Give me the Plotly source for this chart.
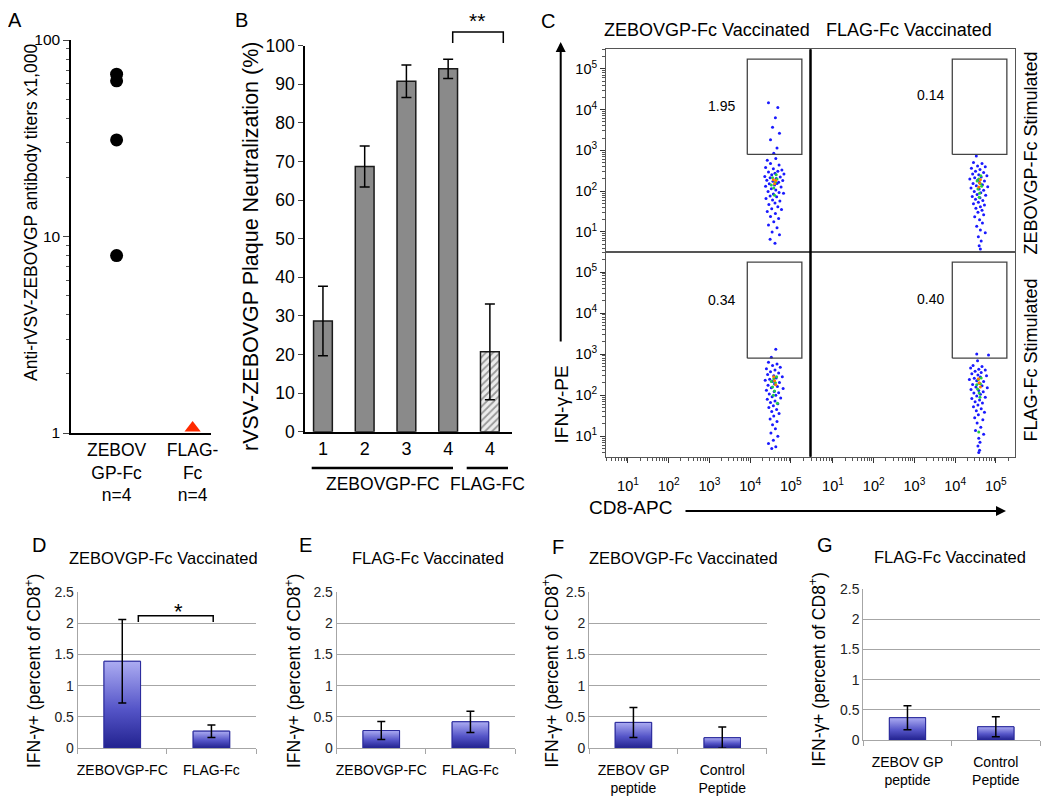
import plotly.graph_objects as go

W, H = 1050, 799          # size of the reference picture
OX, OY = 8, 8             # page offset of the plot inside the browser page
FW, FH = W - OX, H - OY   # figure size
FONT = "Liberation Sans, Arial, Helvetica, sans-serif"

# ---------------- data ----------------
# Panel A: antibody titers (x1,000)
a_categories = ["ZEBOV<br>GP-Fc<br>n=4", "FLAG-<br>Fc<br>n=4"]
a_zebov_titers = [67, 62, 31, 8]
a_flag_titers = [1.06]

# Panel B: plaque neutralization (%)
b_tick_labels = ["1", "2", "3", "4", "4"]
b_values = [28.7, 68.7, 90.8, 94.0, 20.7]
b_errors = [9.0, 5.3, 4.2, 2.5, 12.4]
b_groups = ["ZEBOVGP-FC", "FLAG-FC"]

# Panel C: flow cytometry (log10 CD8-APC, log10 IFN-g-PE)
c_col_titles = ["ZEBOVGP-Fc Vaccinated", "FLAG-Fc Vaccinated"]
c_row_titles = ["ZEBOVGP-Fc Stimulated", "FLAG-Fc Stimulated"]
c_gate_pct = ["1.95", "0.14", "0.34", "0.40"]
c_gate_x_log = [3.93, 5.27]
c_gate_y_log = [2.90, 5.24]
c_decades = [1, 2, 3, 4, 5]

c_tl_events = [
    (4.45, 4.17), (4.68, 4.05), (4.62, 3.80), (4.55, 3.57), (4.72, 3.42), (4.50, 3.26), (4.66, 3.06), (4.58, 2.93),
    (4.42, 2.76), (4.63, 2.80), (4.50, 2.68), (4.71, 2.64), (4.38, 2.58), (4.57, 2.55), (4.78, 2.52),
    (4.45, 2.47), (4.61, 2.44), (4.68, 2.49), (4.53, 2.40), (4.83, 2.42), (4.36, 2.36), (4.49, 2.33), (4.64, 2.31),
    (4.74, 2.35), (4.41, 2.27), (4.56, 2.24), (4.70, 2.22), (4.80, 2.26), (4.47, 2.18), (4.60, 2.15), (4.66, 2.19),
    (4.38, 2.12), (4.76, 2.10), (4.52, 2.06), (4.63, 2.03), (4.44, 1.99), (4.71, 1.97), (4.57, 1.93), (4.82, 1.95),
    (4.49, 1.88), (4.65, 1.86), (4.39, 1.82), (4.55, 1.78), (4.73, 1.76), (4.61, 1.71), (4.46, 1.67), (4.68, 1.62),
    (4.53, 1.57), (4.77, 1.55), (4.42, 1.50), (4.62, 1.45), (4.50, 1.38), (4.70, 1.33), (4.58, 1.25), (4.45, 1.17),
    (4.66, 1.10), (4.54, 1.00), (4.72, 0.93), (4.49, 0.82), (4.61, 0.72),
]
c_tl_mid = [(4.55, 2.33), (4.62, 2.22), (4.58, 2.08), (4.66, 2.30), (4.60, 1.90), (4.52, 2.15), (4.64, 2.40)]
c_tl_hot = [(4.60, 2.18), (4.63, 2.26), (4.57, 2.28)]

c_tr_events = [
    (4.52, 2.86), (4.45, 2.70), (4.66, 2.68), (4.55, 2.62), (4.74, 2.60), (4.40, 2.56), (4.61, 2.53), (4.50, 2.49),
    (4.70, 2.46), (4.43, 2.42), (4.58, 2.40), (4.78, 2.38), (4.64, 2.35), (4.48, 2.33), (4.36, 2.30), (4.55, 2.27),
    (4.72, 2.25), (4.60, 2.21), (4.44, 2.19), (4.67, 2.16), (4.52, 2.13), (4.80, 2.11), (4.39, 2.08), (4.59, 2.05),
    (4.70, 2.02), (4.47, 1.99), (4.63, 1.96), (4.54, 1.92), (4.75, 1.90), (4.42, 1.87), (4.61, 1.84), (4.50, 1.80),
    (4.68, 1.77), (4.57, 1.73), (4.45, 1.69), (4.72, 1.66), (4.62, 1.62), (4.51, 1.58), (4.66, 1.53), (4.56, 1.48),
    (4.70, 1.42), (4.48, 1.37), (4.60, 1.30), (4.67, 1.22), (4.53, 1.14), (4.62, 1.05), (4.74, 0.98), (4.57, 0.88),
    (4.64, 0.78), (4.59, 0.66), (4.62, 0.58),
]
c_tr_mid = [(4.58, 2.30), (4.62, 2.18), (4.56, 2.05), (4.65, 2.12), (4.60, 1.95), (4.54, 2.25), (4.63, 2.38), (4.59, 1.85)]
c_tr_hot = [(4.60, 2.20), (4.58, 2.10), (4.62, 2.28)]

c_bl_events = [
    (4.63, 3.12), (4.52, 2.92), (4.45, 2.80), (4.66, 2.76), (4.55, 2.72), (4.74, 2.68), (4.40, 2.64), (4.61, 2.61),
    (4.50, 2.57), (4.70, 2.54), (4.43, 2.50), (4.58, 2.47), (4.79, 2.45), (4.64, 2.42), (4.48, 2.39), (4.37, 2.36),
    (4.55, 2.33), (4.72, 2.31), (4.60, 2.27), (4.44, 2.24), (4.67, 2.21), (4.52, 2.18), (4.81, 2.16), (4.40, 2.12),
    (4.59, 2.09), (4.70, 2.06), (4.47, 2.03), (4.63, 2.00), (4.54, 1.96), (4.75, 1.93), (4.42, 1.90), (4.61, 1.86),
    (4.50, 1.82), (4.68, 1.79), (4.57, 1.74), (4.46, 1.70), (4.65, 1.65), (4.53, 1.60), (4.71, 1.55), (4.58, 1.49),
    (4.49, 1.42), (4.66, 1.36), (4.55, 1.28), (4.62, 1.18), (4.51, 1.08), (4.68, 1.00), (4.57, 0.90), (4.45, 0.82),
    (4.63, 0.74), (4.53, 0.70),
]
c_bl_mid = [(4.58, 2.40), (4.62, 2.30), (4.55, 2.20), (4.65, 2.45), (4.60, 2.10), (4.57, 2.00), (4.67, 1.80), (4.52, 2.33)]
c_bl_hot = [(4.60, 2.35), (4.63, 2.25), (4.58, 2.45)]

c_br_events = [
    (4.53, 3.00), (4.82, 2.98), (4.55, 2.84), (4.44, 2.72), (4.66, 2.70), (4.38, 2.66), (4.58, 2.63), (4.74, 2.61),
    (4.49, 2.58), (4.64, 2.55), (4.41, 2.52), (4.56, 2.49), (4.77, 2.47), (4.62, 2.44), (4.47, 2.41), (4.35, 2.38),
    (4.53, 2.35), (4.70, 2.33), (4.59, 2.29), (4.43, 2.26), (4.66, 2.23), (4.51, 2.20), (4.79, 2.18), (4.39, 2.14),
    (4.58, 2.11), (4.69, 2.08), (4.46, 2.05), (4.62, 2.02), (4.53, 1.98), (4.74, 1.95), (4.41, 1.92), (4.60, 1.88),
    (4.49, 1.84), (4.67, 1.81), (4.56, 1.76), (4.45, 1.72), (4.64, 1.67), (4.52, 1.62), (4.72, 1.58), (4.57, 1.52),
    (4.48, 1.45), (4.68, 1.40), (4.54, 1.32), (4.63, 1.22), (4.50, 1.14), (4.70, 1.05), (4.58, 0.95), (4.61, 0.85),
    (4.56, 0.76), (4.60, 0.66), (4.58, 0.60),
]
c_br_mid = [(4.57, 2.38), (4.62, 2.28), (4.55, 2.15), (4.64, 2.42), (4.59, 2.05), (4.53, 2.25), (4.61, 1.95), (4.58, 1.10)]
c_br_hot = [(4.59, 2.30), (4.62, 2.20), (4.57, 2.40)]

# Panels D-G: IFN-g+ (percent of CD8+)
d_categories = ["ZEBOVGP-FC", "FLAG-Fc"]
d_values = [1.39, 0.27]
d_errors = [0.67, 0.10]
e_categories = ["ZEBOVGP-FC", "FLAG-Fc"]
e_values = [0.28, 0.42]
e_errors = [0.145, 0.17]
f_categories = ["ZEBOV GP<br>peptide", "Control<br>Peptide"]
f_values = [0.41, 0.165]
f_errors = [0.24, 0.17]
g_categories = ["ZEBOV GP<br>peptide", "Control<br>Peptide"]
g_values = [0.37, 0.22]
g_errors = [0.20, 0.165]
dg_titles = ["ZEBOVGP-Fc Vaccinated", "FLAG-Fc Vaccinated", "ZEBOVGP-Fc Vaccinated", "FLAG-Fc Vaccinated"]


# ---------------- helpers (reference-pixel -> figure paper coords) ----------------
def xdom(left, right):
    return [(left - OX) / FW, (right - OX) / FW]


def ydom(top, bottom):
    return [1 - (bottom - OY) / FH, 1 - (top - OY) / FH]


def px(x, y):
    return (x - OX) / FW, 1 - (y - OY) / FH


def txt(x, y, text, size, angle=0, **kw):
    xp, yp = px(x, y)
    d = dict(x=xp, y=yp, xref="paper", yref="paper", text=text, showarrow=False,
             textangle=angle, font=dict(size=size, family=FONT, color="black"),
             xanchor="center", yanchor="middle")
    d.update(kw)
    return d


fig = go.Figure()
annotations = []
shapes = []
layout = {}

# ---------------- Panel A ----------------
fig.add_trace(go.Scatter(
    x=[a_categories[0]] * len(a_zebov_titers), y=a_zebov_titers, mode="markers",
    marker=dict(color="black", size=13), xaxis="x", yaxis="y", cliponaxis=False))
fig.add_trace(go.Scatter(
    x=[a_categories[1]] * len(a_flag_titers), y=a_flag_titers, mode="markers",
    marker=dict(color="#ff2a00", size=14, symbol="triangle-up"), xaxis="x", yaxis="y", cliponaxis=False))
minor_a = [m * 10 ** k for k in range(0, 2) for m in range(2, 10)]
layout["xaxis"] = dict(domain=xdom(71, 211), type="category", categoryarray=a_categories,
                       range=[-0.6, 1.242], showline=True, linecolor="black", linewidth=1.5,
                       ticks="", tickfont=dict(size=17.5, color="black", family=FONT), anchor="y",
                       showgrid=False, zeroline=False, automargin=False, tickangle=0)
layout["yaxis"] = dict(domain=ydom(40, 433), type="log", range=[0, 2], tickvals=[1, 10, 100],
                       ticktext=["1", "10", "100"], ticks="outside", ticklen=6, tickwidth=1.2,
                       minor=dict(tickmode="array", tickvals=minor_a, ticks="outside", ticklen=3,
                                  tickcolor="#555", showgrid=False),
                       showline=True, linecolor="black", linewidth=1.5, showgrid=False,
                       tickfont=dict(size=15.5, color="black", family=FONT), anchor="x", zeroline=False,
                       automargin=False)
annotations.append(txt(31, 213, "Anti-rVSV-ZEBOVGP antibody titers x1,000", 17.5, -90))
annotations.append(txt(15, 20, "A", 20))

# ---------------- Panel B ----------------
b_x = list(range(len(b_values)))
fig.add_trace(go.Bar(
    x=b_x, y=b_values, width=0.45, xaxis="x2", yaxis="y2",
    marker=dict(color=["#8a8a8a"] * 4 + ["#ececec"], line=dict(color="#1a1a1a", width=1.5),
                pattern=dict(shape=["", "", "", "", "/"], fgcolor="#6a6a6a", bgcolor="#ececec",
                             size=5, solidity=0.35)),
    error_y=dict(type="data", array=b_errors, color="black", thickness=1.5, width=5)))
layout["xaxis2"] = dict(domain=xdom(305, 512), range=[-0.43, 4.53], tickvals=b_x, ticktext=b_tick_labels,
                        ticks="", showline=True, linecolor="black", linewidth=1.5, showgrid=False,
                        zeroline=False, tickfont=dict(size=18, color="black", family=FONT), anchor="y2",
                        automargin=False)
layout["yaxis2"] = dict(domain=ydom(45.7, 431.7), range=[0, 100], dtick=10, ticks="outside", ticklen=5,
                        showline=True, linecolor="black", linewidth=1.5, showgrid=False, zeroline=False,
                        tickfont=dict(size=17.5, color="black", family=FONT), anchor="x2", automargin=False)
annotations.append(txt(251, 247, "rVSV-ZEBOVGP Plaque Neutralization (%)", 21.5, -90))
annotations.append(txt(241, 20, "B", 20))
for (l, r, cx), g in zip([(311.7, 453, 383), (466.7, 508, 487)], b_groups):
    x0, y0 = px(l, 468)
    x1, _ = px(r, 468)
    shapes.append(dict(type="line", xref="paper", yref="paper", x0=x0, x1=x1, y0=y0, y1=y0,
                       line=dict(color="black", width=2.5)))
    annotations.append(txt(cx, 484, g, 17.5))
bx0, by0 = px(452.7, 43)
bx1, by1 = px(503.3, 32)
shapes.append(dict(type="path", xref="paper", yref="paper",
                   path=f"M {bx0},{by0} L {bx0},{by1} L {bx1},{by1} L {bx1},{by0}",
                   line=dict(color="black", width=1.5)))
annotations.append(txt(477, 21, "**", 21))

# ---------------- Panel C ----------------
flow_panels = [
    ("x3", "y3", c_tl_events, c_tl_mid, c_tl_hot, (606, 810), (49.3, 252.3), False, True),
    ("x4", "y4", c_tr_events, c_tr_mid, c_tr_hot, (811, 1015), (49.3, 252.3), False, False),
    ("x5", "y5", c_bl_events, c_bl_mid, c_bl_hot, (606, 810), (252.3, 456.7), True, True),
    ("x6", "y6", c_br_events, c_br_mid, c_br_hot, (811, 1015), (252.3, 456.7), True, False),
]
major_c = [10 ** d for d in c_decades]
major_txt = [f"10<sup>{d}</sup>" for d in c_decades]
minor_c = [m * 10 ** k for k in range(0, 6) for m in range(2, 10)]
for xa, ya, ev, mid, hot, (l, r), (t, b), show_x, show_y in flow_panels:
    for pts, col, sz in [(ev, "#1a1aff", 3), (mid, "#22cc44", 3), (hot, "#ff7a00", 3)]:
        fig.add_trace(go.Scatter(
            x=[10 ** p[0] for p in pts], y=[10 ** p[1] for p in pts], mode="markers",
            marker=dict(color=col, size=sz, line=dict(width=0)), xaxis=xa, yaxis=ya))
    gx = [10 ** c_gate_x_log[0], 10 ** c_gate_x_log[1], 10 ** c_gate_x_log[1], 10 ** c_gate_x_log[0],
          10 ** c_gate_x_log[0]]
    gy = [10 ** c_gate_y_log[0], 10 ** c_gate_y_log[0], 10 ** c_gate_y_log[1], 10 ** c_gate_y_log[1],
          10 ** c_gate_y_log[0]]
    fig.add_trace(go.Scatter(x=gx, y=gy, mode="lines", line=dict(color="#444", width=1.3),
                             xaxis=xa, yaxis=ya))
    n = xa[1:]
    layout[f"xaxis{n}"] = dict(
        domain=xdom(l, r), type="log", range=[0.46, 5.47], anchor=ya, showgrid=False, zeroline=False,
        showline=True, mirror=True, linecolor="#555", linewidth=1, automargin=False,
        tickvals=major_c, ticktext=major_txt, showticklabels=show_x,
        ticks="outside" if show_x else "", ticklen=5, tickcolor="#333", ticklabelstandoff=11,
        minor=dict(tickmode="array", tickvals=minor_c, ticks="outside" if show_x else "", ticklen=3,
                   tickcolor="#555", showgrid=False),
        tickfont=dict(size=14.5, color="black", family=FONT))
    layout[f"yaxis{n}"] = dict(
        domain=ydom(t, b), type="log", range=[0.5, 5.48], anchor=xa, showgrid=False, zeroline=False,
        showline=True, mirror=True, linecolor="#555", linewidth=1, automargin=False,
        tickvals=major_c, ticktext=major_txt, showticklabels=show_y,
        ticks="outside" if show_y else "", ticklen=5, tickcolor="#333",
        minor=dict(tickmode="array", tickvals=minor_c, ticks="outside" if show_y else "", ticklen=3,
                   tickcolor="#555", showgrid=False),
        tickfont=dict(size=14.5, color="black", family=FONT))
dx, dy0 = px(810.5, 49.3)
_, dy1 = px(810.5, 456.7)
shapes.append(dict(type="line", xref="paper", yref="paper", x0=dx, x1=dx, y0=dy0, y1=dy1,
                   line=dict(color="black", width=2.5)))
annotations.append(txt(706.7, 30, c_col_titles[0], 18))
annotations.append(txt(909, 30, c_col_titles[1], 18))
annotations.append(txt(1030.5, 153, c_row_titles[0], 18, -90))
annotations.append(txt(1030.5, 360, c_row_titles[1], 18, -90))
for (gxp, gyp), lab in zip([(721.7, 106), (930, 95), (721.7, 300), (930, 299.3)], c_gate_pct):
    annotations.append(txt(gxp, gyp, lab, 14))
annotations.append(txt(548, 21, "C", 20))
annotations.append(txt(560.5, 405, "IFN-γ-PE", 19, -90))
hx, hy = px(560.7, 42)
annotations.append(dict(x=hx, y=hy, xref="paper", yref="paper", ax=0, ay=301, text="", showarrow=True,
                        arrowhead=2, arrowsize=1, arrowwidth=2, arrowcolor="black"))
annotations.append(txt(630, 507, "CD8-APC", 19))
hx2, hy2 = px(1006, 511)
annotations.append(dict(x=hx2, y=hy2, xref="paper", yref="paper", ax=-322, ay=0, text="", showarrow=True,
                        arrowhead=2, arrowsize=1, arrowwidth=2, arrowcolor="black"))

# ---------------- Panels D-G ----------------
BAR_W = 0.41
GRAD = [[0, "#22228f"], [0.45, "#5555c8"], [1, "#acacf2"]]
bar_panels = [
    ("x7", "y7", d_categories, d_values, d_errors, (77.7, 256), (591.7, 748), "D", (39, 545), (163.3, 558), (33, 671)),
    ("x8", "y8", e_categories, e_values, e_errors, (336.7, 515), (591.7, 748), "E", (305, 545), (428.3, 558), (293, 671)),
    ("x9", "y9", f_categories, f_values, f_errors, (589, 766.7), (591.7, 748), "F", (558, 547), (683, 558), (550.5, 671)),
    ("x10", "y10", g_categories, g_values, g_errors, (863.3, 1040), (589, 740), "G", (825, 545), (950, 557), (817.5, 670)),
]
for i, (xa, ya, cats, vals, errs, (l, r), (t, b), letter, lpos, tpos, ypos) in enumerate(bar_panels):
    xs = list(range(len(vals)))
    fig.add_trace(go.Bar(
        x=xs, y=vals, width=BAR_W, xaxis=xa, yaxis=ya,
        marker=dict(color="#6868d4", line=dict(color="#2b2b9c", width=1))))
    # vertical gradient fill for each bar, built from the same values
    for xi, v in zip(xs, vals):
        fig.add_trace(go.Scatter(
            x=[xi - BAR_W / 2, xi - BAR_W / 2, xi + BAR_W / 2, xi + BAR_W / 2, xi - BAR_W / 2],
            y=[0, v, v, 0, 0], mode="lines", fill="toself",
            fillgradient=dict(type="vertical", colorscale=GRAD),
            line=dict(color="#2b2b9c", width=1), xaxis=xa, yaxis=ya, hoverinfo="skip"))
    fig.add_trace(go.Scatter(
        x=xs, y=vals, mode="markers", marker=dict(size=1, opacity=0), xaxis=xa, yaxis=ya,
        error_y=dict(type="data", array=errs, color="black", thickness=1.5, width=4)))
    n = xa[1:]
    layout[f"xaxis{n}"] = dict(
        domain=xdom(l, r), range=[-0.5, 1.5], tickvals=xs, ticktext=cats, anchor=ya,
        showline=True, linecolor="#a6a6a6", linewidth=1, ticks="", zeroline=False,
        minor=dict(tickmode="array", tickvals=[-0.5, 0.5, 1.5], ticks="outside", ticklen=5,
                   tickcolor="#a6a6a6", showgrid=False),
        showgrid=False, ticklabelstandoff=9, tickangle=0, automargin=False,
        tickfont=dict(size=14, color="black", family=FONT))
    layout[f"yaxis{n}"] = dict(
        domain=ydom(t, b), range=[0, 2.505], dtick=0.5, anchor=xa, showgrid=True,
        gridcolor="#a6a6a6", gridwidth=1, showline=True, linecolor="#a6a6a6", linewidth=1,
        ticks="", zeroline=False, automargin=False, tickfont=dict(size=14, color="#222", family=FONT))
    annotations.append(txt(lpos[0], lpos[1], letter, 20))
    annotations.append(txt(tpos[0], tpos[1], dg_titles[i], 16.5))
    annotations.append(txt(ypos[0], ypos[1], "IFN-γ+ (percent of CD8<sup>+</sup>)", 17.5, -90))

shapes.append(dict(type="path", xref="x7", yref="y7",
                   path="M 0.18,2.02 L 0.18,2.12 L 1.02,2.12 L 1.02,2.02",
                   line=dict(color="black", width=1.5)))
annotations.append(txt(178.5, 611, "*", 22))

fig.update_layout(
    width=FW, height=FH, margin=dict(l=0, r=0, t=0, b=0, autoexpand=False), showlegend=False,
    paper_bgcolor="white", plot_bgcolor="rgba(0,0,0,0)",
    font=dict(family=FONT, color="black"), bargap=0.5,
    annotations=annotations, shapes=shapes, **layout)

fig.write_html("out.html")
